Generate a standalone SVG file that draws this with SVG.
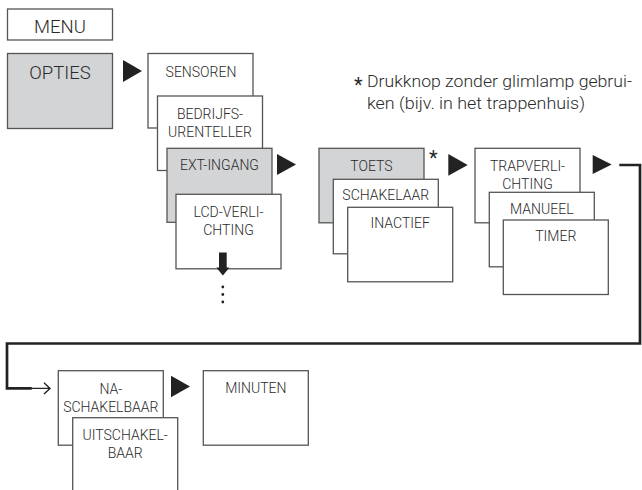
<svg xmlns="http://www.w3.org/2000/svg" width="642" height="490" viewBox="0 0 642 490">
<style>
.box{fill:#fff;stroke:#555;stroke-width:1.3}
.gray{fill:#d3d4d6}
.t{font-family:Roboto,"Liberation Sans",Arial,sans-serif;font-weight:300;font-size:14px;fill:#2a2a2a;text-anchor:middle}
.big{font-size:18.5px}
.note{font-family:Roboto,"Liberation Sans",Arial,sans-serif;font-weight:300;font-size:17.4px;fill:#2a2a2a}
.star{font-family:Roboto,"Liberation Sans",Arial,sans-serif;font-size:20px;fill:#2a2a2a}
.tri{fill:#222}
.conn{fill:none;stroke:#222;stroke-width:2.7}
.thin{fill:none;stroke:#222;stroke-width:1.4}
</style>
<rect width="642" height="490" fill="#fff"/>

<g id="menu"><rect class="box" x="7.5" y="9" width="105" height="31"/><text class="t big" x="60" y="33">MENU</text></g>
<g id="opties"><rect class="box gray" x="7.5" y="53.5" width="105" height="75"/><text class="t big" x="60" y="79">OPTIES</text></g>

<g id="sensoren"><rect class="box" x="148" y="53.5" width="105" height="74.5"/><text class="t" x="201" y="77">SENSOREN</text></g>
<g id="bedrijfsurenteller"><rect class="box" x="157.5" y="96" width="105" height="74.5"/><text class="t" x="210" y="119">BEDRIJFS-</text><text class="t" x="210" y="136.7">URENTELLER</text></g>
<g id="ext-ingang"><rect class="box gray" x="167" y="148.3" width="105" height="74"/><text class="t" x="219.5" y="169.5">EXT-INGANG</text></g>
<g id="lcd-verlichting"><rect class="box" x="176" y="194.3" width="105" height="74.5"/><text class="t" x="228.5" y="217.3">LCD-VERLI-</text><text class="t" x="228.5" y="235">CHTING</text></g>

<g id="toets"><rect class="box gray" x="319" y="148.3" width="105" height="74.5"/><text class="t" x="371.5" y="171">TOETS</text></g>
<g id="schakelaar"><rect class="box" x="333.3" y="179.3" width="105" height="74.5"/><text class="t" x="385.8" y="200">SCHAKELAAR</text></g>
<g id="inactief"><rect class="box" x="347.7" y="207.3" width="105" height="74.5"/><text class="t" x="400.2" y="228">INACTIEF</text></g>

<g id="trapverlichting"><rect class="box" x="475" y="148.3" width="105" height="74.5"/><text class="t" x="527.5" y="171">TRAPVERLI-</text><text class="t" x="527.5" y="189">CHTING</text></g>
<g id="manueel"><rect class="box" x="489.3" y="192.3" width="105" height="74.5"/><text class="t" x="541.8" y="213.5">MANUEEL</text></g>
<g id="timer"><rect class="box" x="503.3" y="220" width="105" height="74.5"/><text class="t" x="555.8" y="240.7">TIMER</text></g>

<g id="naschakelbaar"><rect class="box" x="58.3" y="370.7" width="105" height="74.5"/><text class="t" x="110.8" y="394">NA-</text><text class="t" x="110.8" y="411.5">SCHAKELBAAR</text></g>
<g id="uitschakelbaar"><rect class="box" x="72.7" y="417.7" width="105" height="74.5"/><text class="t" x="125.2" y="440">UITSCHAKEL-</text><text class="t" x="125.2" y="458.3">BAAR</text></g>
<g id="minuten"><rect class="box" x="203.3" y="370.7" width="105" height="74.5"/><text class="t" x="255.8" y="393">MINUTEN</text></g>

<g id="footnote">
<text class="star" x="354" y="92">*</text>
<text class="note" x="367" y="87" textLength="265" lengthAdjust="spacingAndGlyphs">Drukknop zonder glimlamp gebrui-</text>
<text class="note" x="367" y="109" textLength="218" lengthAdjust="spacingAndGlyphs">ken (bijv. in het trappenhuis)</text>
<text class="star" x="429" y="165">*</text>
</g>

<g id="connectors">
<polygon class="tri" points="123,60 142,71 123,82"/>
<polygon class="tri" points="277,154 296,164.5 277,175"/>
<polygon class="tri" points="448.3,154 467.7,165 448.3,175.7"/>
<polygon class="tri" points="592.7,155 611.7,164.5 592.7,174"/>
<polygon class="tri" points="171,375.7 190,386.5 171,397.3"/>
<path class="tri" d="M219,252.5 H226.7 V267.5 H229.5 L222.9,275.5 L216.3,267.5 H219 Z"/>
<circle class="tri" cx="222.8" cy="287" r="1.4"/>
<circle class="tri" cx="222.8" cy="294.5" r="1.4"/>
<circle class="tri" cx="222.8" cy="302" r="1.4"/>
<path class="conn" d="M619.3,165 H640 V343.5 H7 V388.4 H31.7"/>
<path class="thin" d="M31,388.4 H50 M44,382.8 L50,388.4 L44,394"/>
</g>
</svg>
